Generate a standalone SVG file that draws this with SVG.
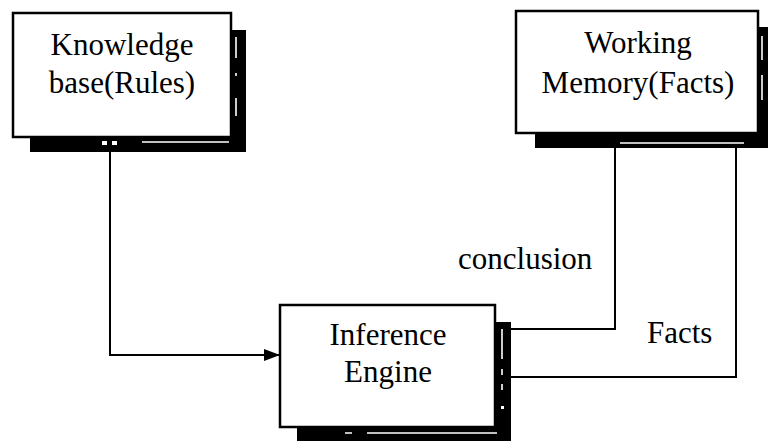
<svg xmlns="http://www.w3.org/2000/svg" width="768" height="441" viewBox="0 0 768 441">
  <style>
    .box { fill: #fff; stroke: #000; stroke-width: 2.5; }
    .shadow { fill: #000; }
    .nick { stroke: #fff; stroke-width: 1.6; fill: none; }
    .label { font-family: "Liberation Serif", "Times New Roman", serif; font-size: 31px; fill: #000; }
    .wire { fill: none; stroke: #000; stroke-width: 2; }
  </style>
  <defs>
    <marker id="arrow" viewBox="0 0 16 12" refX="16" refY="6" markerWidth="16" markerHeight="12" markerUnits="userSpaceOnUse" orient="auto">
      <path d="M0,0 L16,6 L0,12 Z" fill="#000"/>
    </marker>
  </defs>
  <rect width="768" height="441" fill="#fff"/>

  <!-- Knowledge base -->
  <g id="knowledge-base">
    <rect class="shadow" x="30" y="30" width="216" height="122"/>
    <rect class="box" x="13" y="13" width="218" height="124"/>
    <path class="nick" d="M142,142 H229 M236,37 V58 M236,73 V76 M236,98 V116"/>
    <rect x="102" y="141" width="5" height="4" fill="#fff"/>
    <rect x="112" y="141" width="5" height="4" fill="#fff"/>
    <text class="label" x="122" y="55" text-anchor="middle">Knowledge</text>
    <text class="label" x="122" y="93" text-anchor="middle">base(Rules)</text>
  </g>

  <!-- Working memory -->
  <g id="working-memory">
    <rect class="shadow" x="535" y="27" width="240" height="121"/>
    <rect class="box" x="516" y="11" width="242" height="122"/>
    <path class="nick" d="M620,143 H744 M762,36 V60 M762,75 V100"/>
    <text class="label" x="638" y="53" text-anchor="middle">Working</text>
    <text class="label" x="638" y="93" text-anchor="middle">Memory(Facts)</text>
  </g>

  <!-- Inference engine -->
  <g id="inference-engine">
    <rect class="shadow" x="297" y="322" width="214" height="130"/>
    <rect class="box" x="280" y="305" width="215" height="122"/>
    <path class="nick" d="M502,329 V359 M502,369 V375 M502,384 V390 M345,433 H352 M367,433 H497"/>
    <rect x="501" y="406" width="3" height="3" fill="#fff"/>
    <text class="label" x="388" y="345" text-anchor="middle">Inference</text>
    <text class="label" x="388" y="382" text-anchor="middle">Engine</text>
  </g>

  <!-- Connectors -->
  <g id="connectors">
    <path class="wire" d="M110,152 V355 H280" marker-end="url(#arrow)"/>
    <path class="wire" d="M615,148 V329 H508"/>
    <path class="wire" d="M736,148 V377 H508"/>
    <text class="label" x="458" y="269">conclusion</text>
    <text class="label" x="647" y="343">Facts</text>
  </g>
</svg>
